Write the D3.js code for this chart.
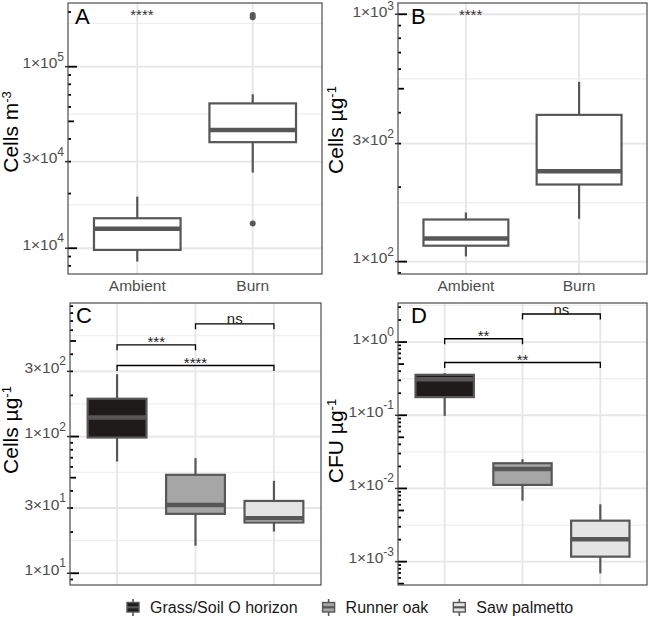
<!DOCTYPE html>
<html><head><meta charset="utf-8">
<script src="https://cdn.jsdelivr.net/npm/d3@7"></script>
<style>
body{margin:0;background:#fff;}
svg{display:block;font-family:"Liberation Sans",Arial,Helvetica,sans-serif;}
</style>
</head><body>
<svg id="chart" width="648" height="618"></svg>
<script>
// ---------------- data ----------------
const catsAB = ["Ambient", "Burn"];
const catsCD = ["Grass/Soil O horizon", "Runner oak", "Saw palmetto"];
const fillsAB = ["#ffffff", "#ffffff"];
const fillsCD = ["#1f1b1b", "#a6a6a6", "#e4e4e4"];

// box stats: [lower whisker, Q1, median, Q3, upper whisker]
const boxA = [[8440, 9790, 12820, 14630, 19240], [26100, 38400, 44800, 62800, 70500]];
const outA = [[], [13700, 187000, 193000]];
const boxB = [[105, 116, 124, 148, 158], [149, 205, 232, 392, 533]];
const outB = [[], []];
const boxC = [[65.6, 98.4, 138, 189, 286], [15.9, 27.2, 31.6, 52.5, 69.5], [20.2, 23.5, 25.3, 33.8, 47.4]];
const outC = [[], [], []];
const boxD = [[0.098, 0.177, 0.311, 0.357, 0.377], [0.00681, 0.01117, 0.0185, 0.0221, 0.0251], [0.000692, 0.00117, 0.00202, 0.00363, 0.00608]];
const outD = [[], [], []];

// y breaks (labelled)
const breaksA = [1e4, 3e4, 1e5];
const breaksB = [1e2, 3e2, 1e3];
const breaksC = [1e1, 3e1, 1e2, 3e2];
const breaksD = [1e-3, 1e-2, 1e-1, 1e0];

// significance
const sigA = "****";
const sigB = "****";
// [from index, to index, bracket height (data units), label]
const sigC = [[0, 1, 469, "***"], [0, 2, 331, "****"], [1, 2, 668, "ns"]];
const sigD = [[0, 1, 1.11, "**"], [0, 2, 0.526, "**"], [1, 2, 2.415, "ns"]];

// ---------------- layout ----------------
const panels = [
  {letter: "A", x0: 68, x1: 322, y0: 3, y1: 274, lo: 3.858, hi: 5.351, cats: catsAB, box: boxA, out: outA, fills: fillsAB,
   breaks: breaksA, minorBase: [3e3, 1e4, 3e4, 1e5, 3e5], title: ["Cells m", "-3"], titleX: 18, titleY: 132, ldx: 7, ldy: 21, xlab: true, top: sigA},
  {letter: "B", x0: 398, x1: 647, y0: 3, y1: 274, lo: 1.95, hi: 3.0455, cats: catsAB, box: boxB, out: outB, fills: fillsAB,
   breaks: breaksB, minorBase: [3e1, 1e2, 3e2, 1e3, 3e3], title: ["Cells \u00b5g", "-1"], titleX: 343, titleY: 130, ldx: 13, ldy: 21, xlab: true, top: sigB},
  {letter: "C", x0: 70, x1: 321, y0: 303, y1: 585, lo: 0.914, hi: 2.977, cats: catsCD, box: boxC, out: outC, fills: fillsCD,
   breaks: breaksC, minorBase: [3, 1e1, 3e1, 1e2, 3e2, 1e3], title: ["Cells \u00b5g", "-1"], titleX: 18, titleY: 430, ldx: 6, ldy: 20, xlab: false, sig: sigC},
  {letter: "D", x0: 398, x1: 647, y0: 303, y1: 585, lo: -3.319, hi: 0.5335, cats: catsCD, box: boxD, out: outD, fills: fillsCD,
   breaks: breaksD, minorBase: [1e-4, 1e-3, 1e-2, 1e-1, 1e0, 1e1], title: ["CFU \u00b5g", "-1"], titleX: 343, titleY: 441, ldx: 13, ldy: 20, xlab: false, sig: sigD}
];

const svg = d3.select("#chart");
const lineCol = "#575757";
const tickTextCol = "#4d4d4d";

function supLabel(sel, v) {
  const e = Math.floor(Math.log10(v) + 1e-9);
  const m = Math.round(v / Math.pow(10, e));
  sel.append("tspan").text(m + "\u00d710");
  sel.append("tspan").attr("font-size", 12).attr("dy", -7.5).text(String(e));
}

panels.forEach(p => {
  const g = svg.append("g");
  const y = d3.scaleLog().domain([Math.pow(10, p.lo), Math.pow(10, p.hi)]).range([p.y1, p.y0]);
  const x = d3.scalePoint().domain(p.cats).range([p.x0, p.x1]).padding(0.6);
  const bw = x.step() * 0.75;
  const inY = v => { const l = Math.log10(v); return l >= p.lo - 1e-9 && l <= p.hi + 1e-9; };

  g.append("rect").attr("x", p.x0).attr("y", p.y0).attr("width", p.x1 - p.x0).attr("height", p.y1 - p.y0).attr("fill", "#fff");

  // minor grid (midpoints in log space)
  const minors = [];
  for (let i = 0; i < p.minorBase.length - 1; i++) {
    const mv = Math.sqrt(p.minorBase[i] * p.minorBase[i + 1]);
    if (inY(mv)) minors.push(mv);
  }
  g.selectAll(".mg").data(minors).enter().append("line")
    .attr("x1", p.x0).attr("x2", p.x1).attr("y1", d => y(d)).attr("y2", d => y(d))
    .attr("stroke", "#efefef").attr("stroke-width", 1.2);
  g.selectAll(".Mg").data(p.breaks.filter(inY)).enter().append("line")
    .attr("x1", p.x0).attr("x2", p.x1).attr("y1", d => y(d)).attr("y2", d => y(d))
    .attr("stroke", "#e6e6e6").attr("stroke-width", 1.8);
  g.selectAll(".vg").data(p.cats).enter().append("line")
    .attr("x1", d => x(d)).attr("x2", d => x(d)).attr("y1", p.y0).attr("y2", p.y1)
    .attr("stroke", "#e6e6e6").attr("stroke-width", 1.8);

  // boxes
  p.cats.forEach((c, i) => {
    const s = p.box[i];
    const cx = x(c);
    g.append("line").attr("x1", cx).attr("x2", cx).attr("y1", y(s[0])).attr("y2", y(s[1]))
      .attr("stroke", lineCol).attr("stroke-width", 2.2);
    g.append("line").attr("x1", cx).attr("x2", cx).attr("y1", y(s[3])).attr("y2", y(s[4]))
      .attr("stroke", lineCol).attr("stroke-width", 2.2);
    g.append("rect").attr("x", cx - bw / 2).attr("width", bw).attr("y", y(s[3])).attr("height", y(s[1]) - y(s[3]))
      .attr("fill", p.fills[i]).attr("stroke", lineCol).attr("stroke-width", 2.2);
    g.append("line").attr("x1", cx - bw / 2).attr("x2", cx + bw / 2).attr("y1", y(s[2])).attr("y2", y(s[2]))
      .attr("stroke", lineCol).attr("stroke-width", 4.5);
    p.out[i].forEach(o => {
      g.append("circle").attr("cx", cx).attr("cy", y(o)).attr("r", 3).attr("fill", lineCol);
    });
  });

  // log ticks inside the panel
  for (let n = Math.floor(p.lo); n <= Math.ceil(p.hi); n++) {
    for (let k = 1; k <= 9; k++) {
      const v = k * Math.pow(10, n);
      if (!inY(v)) continue;
      const len = k === 1 ? 9 : (k === 5 ? 6 : 3);
      g.append("line").attr("x1", p.x0).attr("x2", p.x0 + len).attr("y1", y(v)).attr("y2", y(v))
        .attr("stroke", "#000").attr("stroke-width", 1.8);
    }
  }

  // border
  g.append("rect").attr("x", p.x0).attr("y", p.y0).attr("width", p.x1 - p.x0).attr("height", p.y1 - p.y0)
    .attr("fill", "none").attr("stroke", "#4d4d4d").attr("stroke-width", 1.2);

  // axis ticks + labels
  p.breaks.filter(inY).forEach(b => {
    g.append("line").attr("x1", p.x0 - 3).attr("x2", p.x0).attr("y1", y(b)).attr("y2", y(b))
      .attr("stroke", "#333").attr("stroke-width", 1.5);
    const t = g.append("text").attr("x", p.x0 - 4).attr("y", Math.max(y(b) + 1.5, 17)).attr("text-anchor", "end")
      .attr("font-size", 15.5).attr("fill", tickTextCol);
    supLabel(t, b);
  });
  if (p.xlab) {
    p.cats.forEach(c => {
      g.append("text").attr("x", x(c)).attr("y", p.y1 + 17).attr("text-anchor", "middle")
        .attr("font-size", 15.5).attr("fill", tickTextCol).text(c);
    });
  }

  // axis title
  const tt = g.append("text")
    .attr("transform", `translate(${p.titleX},${p.titleY}) rotate(-90)`)
    .attr("text-anchor", "middle").attr("font-size", 21).attr("fill", "#000");
  tt.append("tspan").text(p.title[0]);
  tt.append("tspan").attr("font-size", 13).attr("dy", -7.5).text(p.title[1]);

  // panel letter
  g.append("text").attr("x", p.x0 + p.ldx).attr("y", p.y0 + p.ldy).attr("font-size", 22).attr("fill", "#000").text(p.letter);

  // top significance
  if (p.top) {
    g.append("text").attr("x", x(p.cats[0]) - 7).attr("y", p.y0 + 17).attr("font-size", 15)
      .attr("fill", "#333").text(p.top);
  }
  // brackets
  if (p.sig) {
    p.sig.forEach(s => {
      const xa = x(p.cats[s[0]]), xb = x(p.cats[s[1]]), yy = y(s[2]);
      g.append("path").attr("d", `M${xa},${yy + 5.5}V${yy}H${xb}V${yy + 5.5}`)
        .attr("fill", "none").attr("stroke", "#000").attr("stroke-width", 1.3);
      const isStar = s[3].indexOf("*") >= 0;
      g.append("text").attr("x", (xa + xb) / 2).attr("y", isStar ? yy + 2.6 : yy + 0.5)
        .attr("text-anchor", "middle").attr("font-size", 15).attr("fill", "#222").text(s[3]);
    });
  }
});

// ---------------- legend ----------------
const lg = svg.append("g");
let lx = 127;
const ly = 607;
catsCD.forEach((c, i) => {
  const k = lg.append("g");
  k.append("line").attr("x1", lx + 6).attr("x2", lx + 6).attr("y1", ly - 8).attr("y2", ly + 9)
    .attr("stroke", lineCol).attr("stroke-width", 1.6);
  k.append("rect").attr("x", lx).attr("y", ly - 4.5).attr("width", 12).attr("height", 9.5)
    .attr("fill", fillsCD[i]).attr("stroke", lineCol).attr("stroke-width", 1.4);
  k.append("line").attr("x1", lx).attr("x2", lx + 12).attr("y1", ly + 0.3).attr("y2", ly + 0.3)
    .attr("stroke", lineCol).attr("stroke-width", 2.2);
  const t = lg.append("text").attr("x", lx + 23).attr("y", ly + 6).attr("font-size", 16).attr("fill", "#1a1a1a").text(c);
  lx = lx + 23 + t.node().getComputedTextLength() + 25;
});
</script>
</body></html>
